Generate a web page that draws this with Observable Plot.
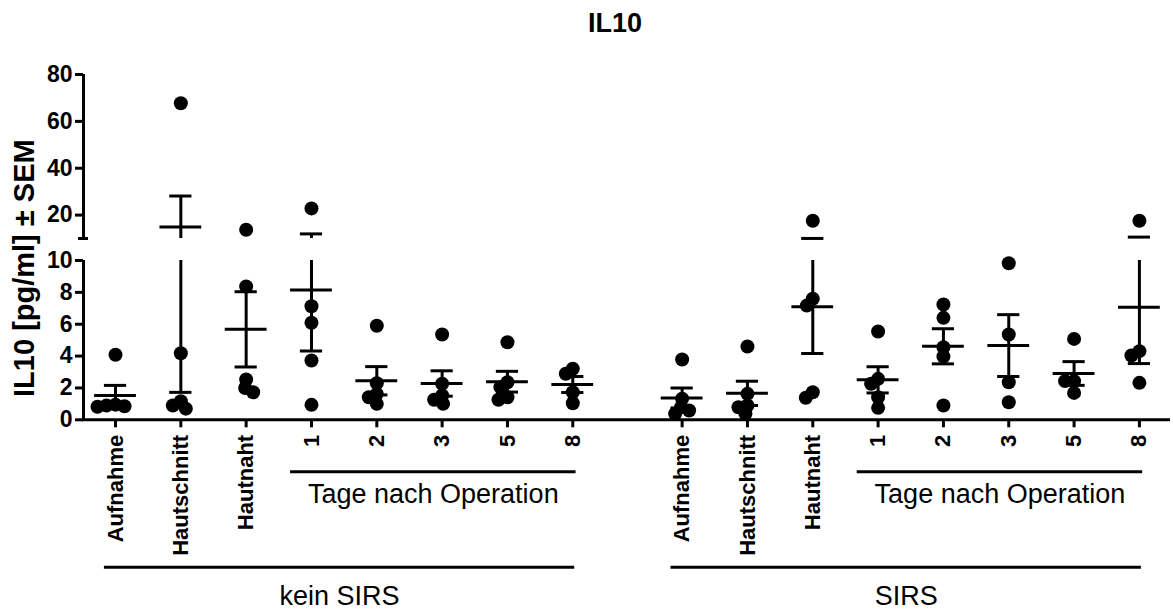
<!DOCTYPE html>
<html>
<head>
<meta charset="utf-8">
<script src="https://cdn.jsdelivr.net/npm/d3@7"></script>
<script src="https://cdn.jsdelivr.net/npm/@observablehq/plot@0.6"></script>
<style>
  body { margin: 0; background: #fff; font-family: "Liberation Sans", Arial, sans-serif; }
  #title { width: 1173px; height: 50px; box-sizing: border-box; padding-left: 57px; padding-top: 10px;
           text-align: center; font-weight: bold; font-size: 27px; line-height: 1; color: #000; }
  #chart svg { display: block; }
</style>
</head>
<body>
<div id="title">IL10</div>
<div id="chart"></div>
<script>
// ---------------- data ----------------
const categories = ["Aufnahme", "Hautschnitt", "Hautnaht", "1", "2", "3", "5", "8"];
const groups = ["kein SIRS", "SIRS"];
const dayLabel = "Tage nach Operation";
const yLabel = "IL10 [pg/ml] \u00b1 SEM";

// IL10 values per category (pg/ml), group "kein SIRS"
const keinSirs = [
  [4.08, 0.95, 0.9, 0.85, 0.82],
  [67.7, 4.18, 1.17, 0.9, 0.7],
  [13.76, 8.37, 2.53, 2.0, 1.73],
  [22.85, 7.13, 6.09, 3.72, 0.94],
  [5.9, 2.3, 1.63, 1.42, 1.0],
  [5.35, 2.26, 1.53, 1.26, 1.0],
  [4.87, 2.36, 2.05, 1.42, 1.26],
  [3.2, 2.89, 1.73, 1.04]
];
// group "SIRS"
const sirs = [
  [3.79, 1.32, 0.79, 0.58, 0.38],
  [4.6, 1.63, 0.9, 0.79, 0.38],
  [17.6, 7.6, 7.17, 1.73, 1.38],
  [5.54, 2.57, 2.26, 1.42, 0.75],
  [7.24, 6.4, 4.56, 3.97, 0.9],
  [9.83, 5.35, 2.36, 1.1],
  [5.08, 2.43, 2.43, 1.69],
  [17.6, 4.31, 4.04, 2.32]
];

const lowerTicks = [0, 2, 4, 6, 8, 10];
const upperTicks = [20, 40, 60, 80];

// ---------------- layout ----------------
const W = 1173, H = 560;
const ML = 83, MR = 3, MT = 24, BASE_Y = 369.3;
const GAP = 0.674;                         // extra space between the two groups (in category steps)
const X_DOMAIN = [-0.49, 16.15];
const BREAK = [10, 10.01];                 // axis break
const Y_DOMAIN = [0, BREAK[0], BREAK[1], 80];
const Y_RANGE = [BASE_Y, 210, 188, 24];
const R = 7;

const pos = (g, k) => g * (categories.length + GAP) + k;
const yPix = d3.scaleLinear().domain(Y_DOMAIN).range(Y_RANGE);
const stepPx = (W - ML - MR) / (X_DOMAIN[1] - X_DOMAIN[0]);

// horizontal spreading of overlapping points (layout only)
function spread(vals, minDist = 8.5) {
  const order = vals.map((v, i) => i).sort((a, b) => vals[b] - vals[a]);
  const placed = [], off = new Array(vals.length);
  for (const i of order) {
    const py = yPix(vals[i]);
    for (let k = 0; k < 200; k++) {
      const cands = k === 0 ? [0] : [-k, k];
      const ok = cands.find(c => placed.every(p => Math.hypot(p.x - c, p.y - py) >= minDist));
      if (ok !== undefined) { off[i] = ok; placed.push({x: ok, y: py}); break; }
    }
  }
  return off;
}

const rows = [], stats = [];
[keinSirs, sirs].forEach((cats, g) => cats.forEach((vals, k) => {
  const offs = spread(vals);
  vals.forEach((v, i) => rows.push({group: groups[g], category: categories[k], value: v, x: pos(g, k) + offs[i] / stepPx}));
  const mean = d3.mean(vals), sem = d3.deviation(vals) / Math.sqrt(vals.length);
  stats.push({x: pos(g, k), mean, lo: mean - sem, hi: mean + sem});
}));
const caps = stats.flatMap(s => [{x: s.x, y: s.lo}, {x: s.x, y: s.hi}]);

const tickPos = [], tickText = new Map();
groups.forEach((g, gi) => categories.forEach((c, k) => { tickPos.push(pos(gi, k)); tickText.set(pos(gi, k), c); }));

const groupIdx = groups.map((g, i) => i);
const black = "#000";

const chart = Plot.plot({
  width: W, height: H,
  marginLeft: ML, marginRight: MR, marginTop: MT, marginBottom: H - BASE_Y,
  style: {fontFamily: '"Liberation Sans", Arial, sans-serif', color: black, background: "white", overflow: "visible"},
  x: {type: "linear", domain: X_DOMAIN, axis: null},
  y: {type: "linear", domain: Y_DOMAIN, range: Y_RANGE, axis: null},
  marks: [
    // error bars (vertical)
    Plot.ruleX(stats, {x: "x", y1: "lo", y2: "hi", stroke: black, strokeWidth: 3}),
    // axis break gap
    Plot.rect([0], {x1: X_DOMAIN[0], x2: X_DOMAIN[1], y1: BREAK[0], y2: BREAK[1], fill: "white"}),
    // SEM caps and mean lines
    Plot.ruleY(caps, {y: "y", x1: d => d.x - 0.17, x2: d => d.x + 0.17, stroke: black, strokeWidth: 3}),
    Plot.ruleY(stats, {y: "mean", x1: d => d.x - 0.32, x2: d => d.x + 0.32, stroke: black, strokeWidth: 3}),
    // points
    Plot.dot(rows, {x: "x", y: "value", r: R, fill: black, stroke: null}),
    // x baseline
    Plot.ruleY([0], {x1: X_DOMAIN[0] - 0.02, x2: X_DOMAIN[1], stroke: black, strokeWidth: 3}),
    // broken y axis line
    Plot.ruleX([[0, BREAK[0]], [BREAK[1], 80]], {x: () => X_DOMAIN[0], y1: d => d[0], y2: d => d[1], stroke: black, strokeWidth: 3}),
    Plot.axisY(lowerTicks.concat(upperTicks), {tickSize: 8, tickPadding: 3, fontSize: 23, fontWeight: "bold", strokeWidth: 3, label: null}),
    Plot.axisY([BREAK[1]], {tickSize: 10, dx: 5, tickFormat: () => "", strokeWidth: 3, label: null}),
    Plot.text([yLabel], {frameAnchor: "left", rotate: -90, textAnchor: "middle", dx: -59, dy: 21, fontSize: 29, fontWeight: "bold", fill: black}),
    // category axis
    Plot.axisX(tickPos, {tickFormat: d => tickText.get(d), tickSize: 8, tickPadding: 7, tickRotate: -90,
                         fontSize: 22, fontWeight: "bold", strokeWidth: 3, label: null}),
    // "Tage nach Operation" brackets
    Plot.ruleY(groupIdx, {y: 0, x1: g => pos(g, 3) - 0.32, x2: g => pos(g, 7) + 0.05, dy: 52, stroke: black, strokeWidth: 3}),
    Plot.text(groupIdx, {x: g => (pos(g, 3) - 0.32 + pos(g, 7) + 0.05) / 2, y: 0, dy: 75, text: () => dayLabel, fontSize: 27, fill: black}),
    // group brackets
    Plot.ruleY(groupIdx, {y: 0, x1: g => pos(g, 0) - 0.17, x2: g => pos(g, 7) + 0.03, dy: 147.4, stroke: black, strokeWidth: 3}),
    Plot.text(groupIdx, {x: g => (pos(g, 0) - 0.17 + pos(g, 7) + 0.03) / 2, y: 0, dy: 176.5, text: g => groups[g], fontSize: 27, fill: black})
  ]
});
document.getElementById("chart").append(chart);
</script>
</body>
</html>
